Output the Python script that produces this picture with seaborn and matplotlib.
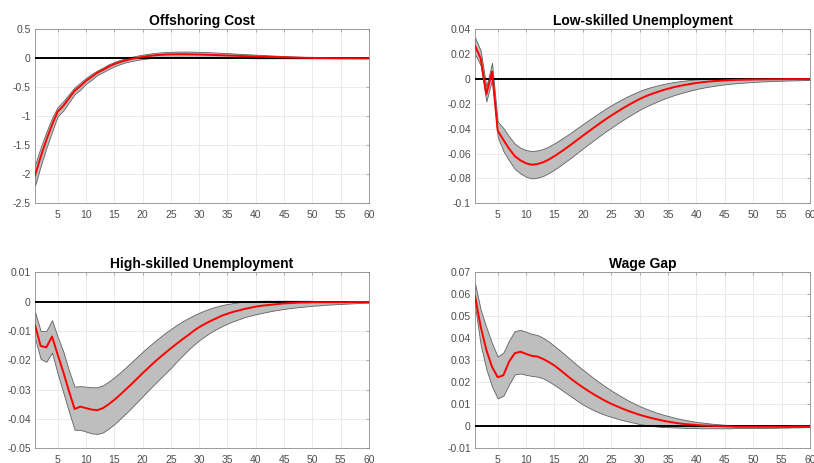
import numpy as np
import pandas as pd
import seaborn as sns
import matplotlib.pyplot as plt
from matplotlib.ticker import FuncFormatter

periods = list(range(1, 61))

# Offshoring cost
off_mean = [-2.02, -1.70, -1.41, -1.15, -0.92, -0.82, -0.69, -0.56, -0.48, -0.39,
            -0.32, -0.25, -0.20, -0.145, -0.10, -0.065, -0.035, -0.012, 0.008, 0.024,
            0.038, 0.050, 0.058, 0.064, 0.068, 0.070, 0.070, 0.069, 0.067, 0.065,
            0.062, 0.059, 0.055, 0.052, 0.048, 0.045, 0.041, 0.038, 0.034, 0.031,
            0.028, 0.025, 0.022, 0.019, 0.017, 0.014, 0.012, 0.010, 0.008, 0.007,
            0.005, 0.004, 0.003, 0.002, 0.0015, 0.001, 0.0008, 0.0006, 0.0004, 0.0003]
off_upper = [-1.84, -1.54, -1.27, -1.03, -0.84, -0.74, -0.62, -0.50, -0.42, -0.34,
             -0.27, -0.21, -0.16, -0.105, -0.062, -0.028, 0.000, 0.025, 0.045, 0.062,
             0.077, 0.090, 0.100, 0.107, 0.112, 0.115, 0.116, 0.116, 0.114, 0.112,
             0.108, 0.104, 0.099, 0.094, 0.089, 0.084, 0.078, 0.073, 0.068, 0.063,
             0.058, 0.053, 0.048, 0.043, 0.039, 0.034, 0.030, 0.026, 0.023, 0.019,
             0.016, 0.013, 0.010, 0.008, 0.006, 0.004, 0.003, 0.002, 0.0015, 0.001]
off_lower = [-2.20, -1.86, -1.55, -1.27, -1.00, -0.90, -0.76, -0.62, -0.54, -0.44,
             -0.37, -0.29, -0.24, -0.185, -0.14, -0.102, -0.070, -0.048, -0.030, -0.014,
             -0.002, 0.008, 0.015, 0.020, 0.024, 0.025, 0.025, 0.024, 0.022, 0.020,
             0.018, 0.016, 0.013, 0.011, 0.009, 0.007, 0.005, 0.004, 0.002, 0.001,
             0.0, 0.0, 0.0, 0.0, 0.0, 0.0, 0.0, 0.0, 0.0, 0.0,
             0.0, 0.0, 0.0, 0.0, 0.0, 0.0, 0.0, 0.0, 0.0, 0.0]

# Low-skilled unemployment
low_mean = [0.0266, 0.0166, -0.0123, 0.0060, -0.0416, -0.0490, -0.0560, -0.0620, -0.0655, -0.0678,
            -0.0690, -0.0684, -0.0670, -0.0648, -0.0620, -0.0590, -0.0558, -0.0525, -0.0490, -0.0456,
            -0.0422, -0.0389, -0.0356, -0.0324, -0.0294, -0.0265, -0.0237, -0.0210, -0.0185, -0.0161,
            -0.0140, -0.0122, -0.0106, -0.0091, -0.0078, -0.0066, -0.0056, -0.0047, -0.0039, -0.0032,
            -0.0026, -0.0021, -0.0017, -0.0014, -0.0011, -0.0009, -0.0007, -0.0006, -0.0005, -0.0004,
            -0.0003, -0.0003, -0.0002, -0.0002, -0.0002, -0.0001, -0.0001, -0.0001, -0.0001, -0.0001]
low_upper = [0.0335, 0.0228, -0.0060, 0.0130, -0.0343, -0.0395, -0.0462, -0.0520, -0.0553, -0.0572,
             -0.0580, -0.0575, -0.0563, -0.0543, -0.0517, -0.0489, -0.0459, -0.0428, -0.0395, -0.0363,
             -0.0331, -0.0300, -0.0269, -0.0239, -0.0211, -0.0185, -0.0160, -0.0137, -0.0116, -0.0096,
             -0.0079, -0.0065, -0.0053, -0.0042, -0.0033, -0.0025, -0.0018, -0.0012, -0.0007, -0.0003,
             0.0000, 0.0002, 0.0003, 0.0003, 0.0004, 0.0004, 0.0004, 0.0004, 0.0004, 0.0003,
             0.0003, 0.0003, 0.0003, 0.0002, 0.0002, 0.0002, 0.0002, 0.0001, 0.0001, 0.0001]
low_lower = [0.0200, 0.0110, -0.0180, -0.0005, -0.0465, -0.0580, -0.0655, -0.0722, -0.0760, -0.0786,
             -0.0800, -0.0794, -0.0780, -0.0757, -0.0728, -0.0697, -0.0664, -0.0630, -0.0594, -0.0559,
             -0.0524, -0.0490, -0.0456, -0.0423, -0.0392, -0.0361, -0.0331, -0.0302, -0.0275, -0.0248,
             -0.0224, -0.0203, -0.0183, -0.0164, -0.0147, -0.0131, -0.0117, -0.0104, -0.0092, -0.0081,
             -0.0071, -0.0063, -0.0056, -0.0049, -0.0043, -0.0038, -0.0034, -0.0030, -0.0027, -0.0024,
             -0.0021, -0.0019, -0.0017, -0.0015, -0.0014, -0.0012, -0.0011, -0.0010, -0.0009, -0.0008]

# High-skilled unemployment
high_mean = [-0.0080, -0.0151, -0.0156, -0.0119, -0.0180, -0.0240, -0.0305, -0.0366, -0.0358, -0.0363,
             -0.0368, -0.0370, -0.0363, -0.0350, -0.0335, -0.0318, -0.0300, -0.0282, -0.0263, -0.0244,
             -0.0226, -0.0208, -0.0191, -0.0175, -0.0159, -0.0144, -0.0129, -0.0115, -0.0100, -0.0087,
             -0.0076, -0.0066, -0.0057, -0.0048, -0.0041, -0.0035, -0.0030, -0.0025, -0.0021, -0.0017,
             -0.0014, -0.0012, -0.0010, -0.0008, -0.0006, -0.0005, -0.0004, -0.0003, -0.0003, -0.0002,
             -0.0002, -0.0002, -0.0002, -0.0002, -0.0002, -0.0002, -0.0001, -0.0001, -0.0001, -0.0001]
high_upper = [-0.0034, -0.0100, -0.0100, -0.0063, -0.0120, -0.0170, -0.0235, -0.0290, -0.0288, -0.0290,
              -0.0292, -0.0292, -0.0285, -0.0273, -0.0258, -0.0242, -0.0225, -0.0207, -0.0189, -0.0171,
              -0.0154, -0.0138, -0.0122, -0.0107, -0.0093, -0.0080, -0.0068, -0.0057, -0.0047, -0.0038,
              -0.0030, -0.0023, -0.0017, -0.0012, -0.0008, -0.0005, -0.0002, 0.0000, 0.0001, 0.0002,
              0.0003, 0.0003, 0.0003, 0.0003, 0.0003, 0.0003, 0.0003, 0.0003, 0.0003, 0.0003,
              0.0002, 0.0002, 0.0002, 0.0002, 0.0002, 0.0001, 0.0001, 0.0001, 0.0001, 0.0001]
high_lower = [-0.0125, -0.0195, -0.0205, -0.0174, -0.0245, -0.0310, -0.0375, -0.0437, -0.0437, -0.0443,
              -0.0449, -0.0451, -0.0446, -0.0433, -0.0418, -0.0400, -0.0382, -0.0363, -0.0343, -0.0323,
              -0.0303, -0.0283, -0.0264, -0.0245, -0.0226, -0.0205, -0.0185, -0.0166, -0.0148, -0.0132,
              -0.0118, -0.0105, -0.0094, -0.0084, -0.0075, -0.0067, -0.0060, -0.0053, -0.0048, -0.0043,
              -0.0039, -0.0035, -0.0031, -0.0028, -0.0025, -0.0022, -0.0020, -0.0018, -0.0016, -0.0014,
              -0.0013, -0.0011, -0.0010, -0.0009, -0.0008, -0.0007, -0.0006, -0.0005, -0.0004, -0.0004]

# Wage gap
wage_mean = [0.0592, 0.0453, 0.0347, 0.0270, 0.0223, 0.0232, 0.0294, 0.0332, 0.0339, 0.0329,
             0.0320, 0.0317, 0.0306, 0.0292, 0.0276, 0.0256, 0.0235, 0.0214, 0.0195, 0.0177,
             0.0160, 0.0144, 0.0129, 0.0115, 0.0102, 0.0091, 0.0080, 0.0070, 0.0061, 0.0052,
             0.0045, 0.0038, 0.0032, 0.0026, 0.0021, 0.0017, 0.0013, 0.0010, 0.0008, 0.0006,
             0.0004, 0.0003, 0.0002, 0.0001, 0.0000, -0.0001, -0.0002, -0.0002, -0.0002, -0.0002,
             -0.0002, -0.0002, -0.0002, -0.0002, -0.0002, -0.0002, -0.0001, -0.0001, -0.0001, -0.0001]
wage_upper = [0.0650, 0.0530, 0.0450, 0.0377, 0.0317, 0.0335, 0.0390, 0.0433, 0.0438, 0.0430,
              0.0420, 0.0415, 0.0402, 0.0385, 0.0365, 0.0344, 0.0322, 0.0300, 0.0278, 0.0257,
              0.0237, 0.0217, 0.0198, 0.0180, 0.0163, 0.0147, 0.0132, 0.0117, 0.0104, 0.0092,
              0.0081, 0.0071, 0.0062, 0.0054, 0.0047, 0.0040, 0.0034, 0.0029, 0.0024, 0.0020,
              0.0017, 0.0014, 0.0011, 0.0009, 0.0007, 0.0006, 0.0005, 0.0004, 0.0003, 0.0002,
              0.0001, 0.0001, 0.0000, 0.0000, 0.0000, -0.0001, -0.0001, -0.0001, -0.0001, -0.0001]
wage_lower = [0.0550, 0.0370, 0.0260, 0.0180, 0.0127, 0.0139, 0.0190, 0.0236, 0.0240, 0.0234,
              0.0229, 0.0226, 0.0218, 0.0204, 0.0188, 0.0170, 0.0152, 0.0134, 0.0116, 0.0099,
              0.0085, 0.0072, 0.0061, 0.0051, 0.0043, 0.0035, 0.0028, 0.0022, 0.0016, 0.0010,
              0.0006, 0.0002, -0.0001, -0.0003, -0.0004, -0.0005, -0.0006, -0.0007, -0.0008, -0.0008,
              -0.0009, -0.0009, -0.0009, -0.0009, -0.0009, -0.0009, -0.0008, -0.0008, -0.0008, -0.0008,
              -0.0008, -0.0008, -0.0007, -0.0007, -0.0006, -0.0006, -0.0005, -0.0005, -0.0004, -0.0004]

titles = ['Offshoring Cost', 'Low-skilled Unemployment', 'High-skilled Unemployment', 'Wage Gap']
means = [off_mean, low_mean, high_mean, wage_mean]
uppers = [off_upper, low_upper, high_upper, wage_upper]
lowers = [off_lower, low_lower, high_lower, wage_lower]
y_limits = [(-2.5, 0.5), (-0.1, 0.04), (-0.05, 0.01), (-0.01, 0.07)]
y_steps = [0.5, 0.02, 0.01, 0.01]

sns.set_theme(style='whitegrid')
plt.rcParams['font.family'] = ['Liberation Sans', 'DejaVu Sans']
plt.rcParams['axes.unicode_minus'] = False

W, H = 814, 463
# axes boxes in pixels: left, top, right, bottom
boxes = [(35, 29.3, 369, 203.3), (475, 29.3, 810, 203.3),
         (35, 272.3, 369, 448.3), (475, 272.3, 810, 448.3)]

fig = plt.figure(figsize=(W / 100, H / 100), dpi=100)


def fmt(v, pos):
    s = '%g' % round(v, 4)
    return '0' if s == '-0' else s


for i in range(4):
    l, t, r, b = boxes[i]
    ax = fig.add_axes([l / W, 1 - b / H, (r - l) / W, (b - t) / H])
    df = pd.DataFrame({'period': periods, 'irf': means[i]})

    ax.fill_between(periods, lowers[i], uppers[i], facecolor='#bebebe',
                    edgecolor='#606060', linewidth=0.6, zorder=2)
    ax.axhline(0, color='black', linewidth=1.4, zorder=3)
    sns.lineplot(data=df, x='period', y='irf', color='red', linewidth=1.4, ax=ax, zorder=4)

    lo, hi = y_limits[i]
    ax.set_xlim(1, 60)
    ax.set_ylim(lo, hi)
    ax.set_xticks(range(5, 61, 5))
    ax.set_yticks(np.arange(lo, hi + y_steps[i] / 2, y_steps[i]))
    ax.yaxis.set_major_formatter(FuncFormatter(fmt))
    ax.set_xlabel('')
    ax.set_ylabel('')
    ax.set_title(titles[i], fontsize=10, fontweight='bold', pad=3, color='black')

    ax.grid(True, color='#e6e6e6', linewidth=0.6)
    ax.tick_params(direction='in', length=2.5, width=0.5, top=True, right=True,
                   labelsize=7.5, labelcolor='#4d4d4d', color='#8c8c8c')
    ax.tick_params(axis='x', pad=4.5)
    ax.tick_params(axis='y', pad=3)
    for sp in ax.spines.values():
        sp.set_color('#8c8c8c')
        sp.set_linewidth(0.6)

fig.savefig('out.png', dpi=100, facecolor='white')
